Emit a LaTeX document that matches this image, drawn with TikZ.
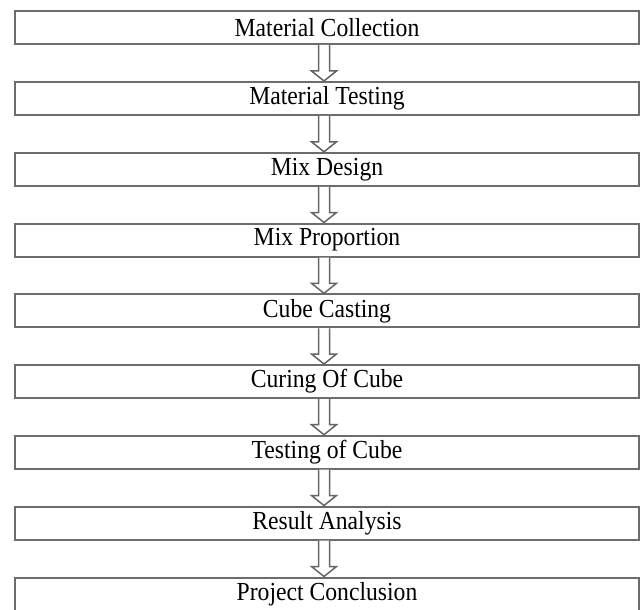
\documentclass[tikz,border=0pt]{standalone}
\usepackage{fontspec}
\setmainfont{Liberation Serif}[FakeStretch=0.91]
\usetikzlibrary{calc}

\tikzset{
    stage/.style={draw=gray!85!black, line width=2pt, rectangle, minimum width=624pt,
        minimum height=33pt, inner sep=0pt, font=\fontsize{26}{28}\selectfont},
    hollow/.style={draw=gray!80!black, line width=1.5pt, fill=white, line join=miter}
}

% hollow down arrow from the bottom of one box to the top of the next
\newcommand{\downarrowto}[2]{%
    \draw[hollow] ($(#1.south)+(-8.5,0)$) -- ($(#2.north)+(-8.5,10)$) -- ++(-7,0)
        -- ($(#2.north)+(-3,0)$) -- ($(#2.north)+(9.5,10)$) -- ++(-7,0)
        -- ($(#1.south)+(2.5,0)$);}

\begin{document}
\begin{tikzpicture}[x=1pt, y=1pt]
    \useasboundingbox (0,0) rectangle (641,-610);

    \node[stage] (collect) at (327,-27.5) {Material Collection};
    \node[stage] (testing) at (327,-98.5) {Material Testing};
    \node[stage] (design) at (327,-169.3) {Mix Design};
    \node[stage] (proport) at (327,-240) {Mix Proportion};
    \node[stage] (casting) at (327,-310.8) {Cube Casting};
    \node[stage] (curing) at (327,-381.5) {Curing Of Cube};
    \node[stage] (cubetest) at (327,-452.2) {Testing of Cube};
    \node[stage] (result) at (327,-523) {Result Analysis};
    \node[stage] (conclude) at (327,-594) {Project Conclusion};

    \downarrowto{collect}{testing}
    \downarrowto{testing}{design}
    \downarrowto{design}{proport}
    \downarrowto{proport}{casting}
    \downarrowto{casting}{curing}
    \downarrowto{curing}{cubetest}
    \downarrowto{cubetest}{result}
    \downarrowto{result}{conclude}
\end{tikzpicture}
\end{document}
